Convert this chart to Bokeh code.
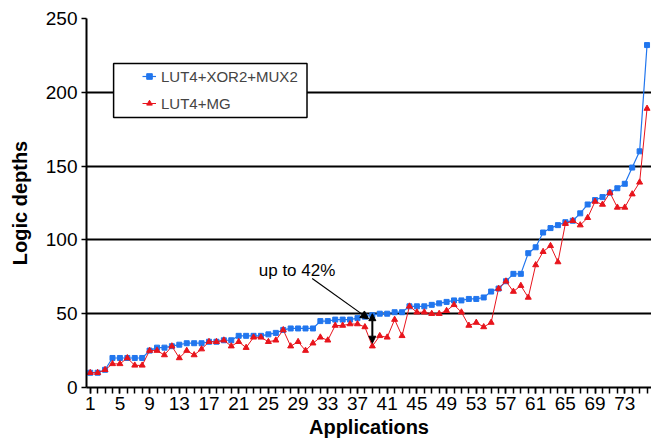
from bokeh.plotting import figure
from bokeh.models import (FixedTicker, Legend, LegendItem, Arrow, NormalHead,
                          Label, BoxAnnotation, Range1d)
from bokeh.embed import file_html
from bokeh.resources import INLINE

# ---- data ----
apps = list(range(1, 77))
xor_mux = [10, 10, 12, 20, 20, 20, 20, 20, 25, 27,
           27, 28, 29, 30, 30, 30, 31, 31, 32, 32,
           35, 35, 35, 35, 36, 37, 39, 40, 40, 40,
           40, 45, 45, 46, 46, 46, 47, 48, 49, 50,
           50, 51, 51, 55, 55, 55, 56, 57, 58, 59,
           59, 60, 60, 61, 65, 67, 72, 77, 77, 91,
           95, 105, 108, 110, 112, 113, 118, 124, 127, 129,
           132, 135, 138, 149, 160, 232]
mg = [10, 10, 12, 16, 16, 20, 15, 15, 25, 25,
      22, 28, 20, 25, 22, 26, 31, 31, 32, 28,
      31, 27, 34, 34, 31, 32, 39, 28, 31, 25,
      30, 34, 32, 42, 42, 43, 43, 41, 28, 35,
      34, 46, 35, 55, 51, 51, 50, 50, 52, 56,
      51, 42, 44, 41, 44, 67, 72, 65, 69, 61,
      83, 92, 96, 85, 111, 113, 110, 115, 126, 124,
      132, 122, 122, 131, 139, 189]
series_names = ["LUT4+XOR2+MUX2", "LUT4+MG"]
x_tick_values = list(range(1, 74, 4))
x_tick_labels = [str(v) for v in x_tick_values]
y_tick_values = [0, 50, 100, 150, 200, 250]
note_index = 38  # application 39: largest reduction
note_text = "up to 42%"

BLUE = "#2176EE"
RED = "#E8141C"
FONT = "Liberation Sans"

p = figure(width=651, height=448, output_backend="svg", toolbar_location=None,
           x_range=Range1d(0.5, 76.6), y_range=Range1d(0, 250),
           min_border_left=86, min_border_right=0, min_border_top=18,
           min_border_bottom=61)
p.outline_line_color = None

# axes
p.xaxis.ticker = FixedTicker(ticks=x_tick_values, minor_ticks=apps)
p.xaxis.major_label_overrides = {v: l for v, l in zip(x_tick_values, x_tick_labels)}
p.yaxis.ticker = FixedTicker(ticks=y_tick_values)
for ax in (p.xaxis, p.yaxis):
    ax.axis_line_color = "black"
    ax.axis_line_width = 2
    ax.major_tick_line_color = "black"
    ax.major_tick_line_width = 1.5
    ax.minor_tick_line_color = "black"
    ax.minor_tick_line_width = 1.5
    ax.major_label_text_font = FONT
    ax.major_label_text_font_size = "19px"
    ax.major_label_text_color = "black"
    ax.axis_label_text_font = FONT
    ax.axis_label_text_font_size = "20px"
    ax.axis_label_text_font_style = "bold"
    ax.axis_label_text_color = "black"
p.xaxis.major_tick_out = 6
p.xaxis.major_tick_in = 0
p.xaxis.minor_tick_out = 6
p.xaxis.minor_tick_in = 0
p.xaxis.major_label_standoff = 3
p.xaxis.axis_label = "Applications"
p.xaxis.axis_label_standoff = 3
p.yaxis.major_tick_out = 5
p.yaxis.major_tick_in = 0
p.yaxis.minor_tick_out = 0
p.yaxis.minor_tick_in = 0
p.yaxis.major_label_standoff = 4
p.yaxis.axis_label = "Logic depths"
p.yaxis.axis_label_standoff = 12

p.xgrid.visible = False
p.ygrid.ticker = FixedTicker(ticks=y_tick_values[1:])
p.ygrid.grid_line_color = "black"
p.ygrid.grid_line_width = 2

# series
bl = p.line(apps, xor_mux, color=BLUE, line_width=1.2)
bs = p.scatter(apps, xor_mux, marker="square", size=5, color=BLUE)
rl = p.line(apps, mg, color=RED, line_width=1.0)
rs = p.scatter(apps, mg, marker="triangle", size=6, color=RED)

# legend frame
box = BoxAnnotation(left=4.15, right=30.2, bottom=183, top=219.5,
                    fill_color="white", fill_alpha=1.0,
                    line_color="black", line_alpha=1.0, line_width=1.5)
p.add_layout(box)

legend = Legend(items=[LegendItem(label=series_names[0], renderers=[bl, bs]),
                       LegendItem(label=series_names[1], renderers=[rl, rs])],
                location=(56, 274), padding=0, spacing=7, margin=0,
                glyph_width=14, glyph_height=20, label_standoff=5,
                border_line_alpha=0, background_fill_alpha=0,
                label_text_font=FONT, label_text_font_size="15px")
p.add_layout(legend)

# annotation
xa = apps[note_index]
p.add_layout(Arrow(end=NormalHead(size=8, fill_color="black", line_color="black"),
                   x_start=30.9, y_start=73.8, x_end=xa - 0.5, y_end=46.5,
                   line_color="black", line_width=1.2))
p.add_layout(Arrow(start=NormalHead(size=7, fill_color="black", line_color="black"),
                   end=NormalHead(size=7, fill_color="black", line_color="black"),
                   x_start=xa, y_start=xor_mux[note_index] + 1,
                   x_end=xa, y_end=mg[note_index] + 2,
                   line_color="black", line_width=2))
p.add_layout(Label(x=23.7, y=79, text=note_text, text_font=FONT,
                   text_font_size="17px", text_baseline="middle",
                   text_color="black"))

open("out.html", "w").write(file_html(p, INLINE))
